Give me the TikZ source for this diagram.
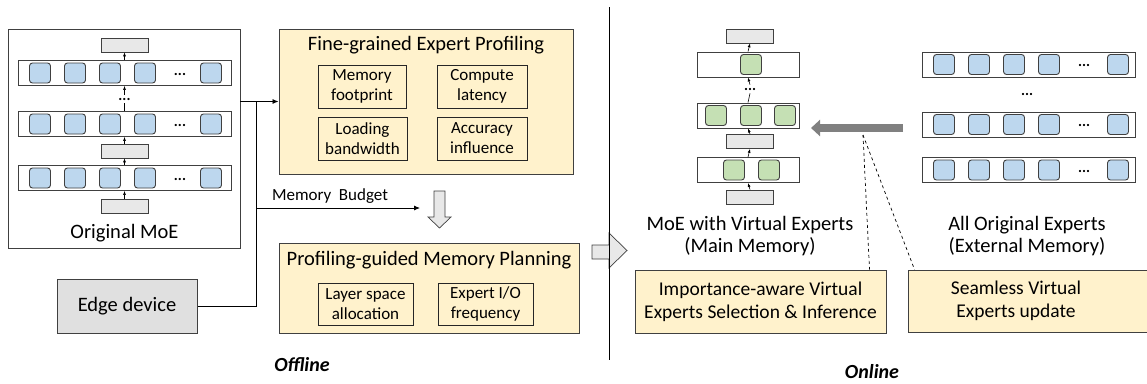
\documentclass[tikz,border=0pt]{standalone}
\usepackage{fontspec}
\setmainfont{Carlito}
\usetikzlibrary{arrows.meta,positioning,calc}

\definecolor{expblue}{HTML}{BDD7EE}
\definecolor{expgreen}{HTML}{C5E0B4}
\definecolor{panelyellow}{HTML}{FFF2CC}
\definecolor{gatefill}{HTML}{E8E8E8}
\definecolor{edgefill}{HTML}{E0E0E0}
\definecolor{arrowgray}{HTML}{808080}
\definecolor{boxline}{HTML}{404040}

\begin{document}
\begin{tikzpicture}[x=1pt,y=-1pt]
\tikzset{every node/.style={font=\fontsize{20.5}{23}\selectfont}}
\tikzset{expert/.style={draw=boxline,fill=expblue,rounded corners=3pt,line width=0.9pt,minimum width=21pt,minimum height=20pt,inner sep=0pt}}
\tikzset{vexpert/.style={expert,fill=expgreen}}
\tikzset{layer/.style={draw=boxline,line width=0.9pt,minimum height=25pt,inner sep=0pt}}
\tikzset{gate/.style={draw=boxline,fill=gatefill,line width=0.7pt,minimum width=47pt,minimum height=14pt,inner sep=0pt}}
\tikzset{panel/.style={draw=boxline,fill=panelyellow,line width=1pt,inner sep=0pt}}
\tikzset{subbox/.style={draw=black!85,line width=0.9pt,align=center,inner sep=0pt,font=\fontsize{17}{20}\selectfont}}
\tikzset{dots/.style={inner xsep=0pt,inner ysep=3pt,font=\fontsize{15}{15}\selectfont\bfseries}}
\tikzset{flow/.style={-{Latex[length=4pt,width=3pt]},line width=0.6pt}}
\tikzset{blockarrow/.style={draw=boxline,fill=gatefill,line width=0.7pt}}
\useasboundingbox (0,0) rectangle (1147,383);

% offline: original model
\node[draw=boxline,line width=0.9pt,minimum width=232pt,minimum height=219pt] (orig) at (124,138.5) {};
\node[gate] (og1) at (124.5,45) {};
\node[layer,minimum width=213pt] (ol1) at (124.5,73) {};
\node[dots] (od) at (124.5,99) {...};
\node[layer,minimum width=213pt] (ol2) at (124.5,124) {};
\node[gate] (og2) at (124.5,151) {};
\node[layer,minimum width=213pt] (ol3) at (124.5,178) {};
\node[gate] (og3) at (124.5,206) {};
\foreach \r/\y in {1/73,2/124,3/178} {
  \foreach \x [count=\i] in {40,75,110,145,211}
    \node[expert] (oe\r\i) at (\x,\y) {};
  \node[dots] at (180,\y+1) {...};
}
\draw[flow] (ol1.north) -- (og1.south);
\draw[flow] (od.north) -- (ol1.south);
\draw[line width=0.6pt] (ol2.north) -- (od.south);
\draw[flow] (og2.north) -- (ol2.south);
\draw[flow] (ol3.north) -- (og2.south);
\draw[flow] (og3.north) -- (ol3.south);
\node at (124.5,233) {Original MoE};

\node[draw=boxline,fill=edgefill,line width=1pt,minimum width=140pt,minimum height=54pt] (edge) at (127,306) {Edge device};

% profiling
\node[panel,minimum width=294pt,minimum height=145pt] (prof) at (426,101.5) {};
\node at (426,45) {Fine-grained Expert Profiling};
\node[subbox,minimum width=88pt,minimum height=43pt] (mem) at (362,86.5) {Memory\\footprint};
\node[subbox,minimum width=90pt,minimum height=43pt] (lat) at (482,86.5) {Compute\\latency};
\node[subbox,minimum width=89pt,minimum height=43pt] (bw) at (362.5,138.5) {Loading\\bandwidth};
\node[subbox,minimum width=90pt,minimum height=43pt] (acc) at (482,138.5) {Accuracy\\influence};

\coordinate (jn) at (256,101.5);
\coordinate (mb) at (420,208);
\draw[-{Latex[length=6pt,width=5pt]},line width=0.8pt] (orig.east |- prof.west) -- (prof.west);
\draw[line width=0.8pt] (edge.east) -| (jn);
\draw[-{Latex[length=6pt,width=5pt]},line width=0.8pt] (jn |- mb) -- (mb);
\node[font=\fontsize{17}{19}\selectfont] at (330,196) {Memory~ Budget};

\draw[blockarrow] (434,191) -- (445,191) -- (445,217) -- (451,217) -- (439.5,228) -- (428,217) -- (434,217) -- cycle;

% planning
\node[panel,minimum width=300pt,minimum height=90pt] (plan) at (429,288) {};
\node at (429,260) {Profiling-guided Memory Planning};
\node[subbox,minimum width=95pt,minimum height=42pt] (alloc) at (365.5,304) {Layer space\\allocation};
\node[subbox,minimum width=95pt,minimum height=42pt] (freq) at (485.5,304) {Expert I/O\\frequency};

\node[font=\fontsize{20}{23}\selectfont\bfseries\itshape] at (302,365) {Offline};

\draw[blockarrow] (592,245) -- (609,245) -- (609,233) -- (627,250.5) -- (609,268) -- (609,259) -- (592,259) -- cycle;
\draw[line width=0.8pt] (609,7) -- (609,360);

% online: virtual experts
\node[gate] (vg1) at (750,36) {};
\node[layer,minimum width=102pt] (vl1) at (748,64.5) {};
\node[dots] (vd) at (750,89) {...};
\node[layer,minimum width=102pt] (vl2) at (748,115.5) {};
\node[gate] (vg2) at (750,141.5) {};
\node[layer,minimum width=102pt] (vl3) at (748,170) {};
\node[gate] (vg3) at (750,197) {};
\node[vexpert] (ve11) at (751,64.5) {};
\foreach \x [count=\i] in {716,751,785}
  \node[vexpert] (ve2\i) at (\x,115.5) {};
\foreach \x [count=\i] in {734,769}
  \node[vexpert] (ve3\i) at (\x,170) {};
\draw[flow] (vl1.north) -- (vg1.south);
\draw[flow] (vd.north) -- (vl1.south);
\draw[line width=0.6pt] (vl2.north) -- (vd.south);
\draw[flow] (vg2.north) -- (vl2.south);
\draw[flow] (vl3.north) -- (vg2.south);
\draw[flow] (vg3.north) -- (vl3.south);
\node[align=center,font=\fontsize{20.5}{22}\selectfont] at (750,236) {MoE with Virtual Experts\\(Main Memory)};

% online: all experts
\node[layer,minimum width=213pt] (al1) at (1028.5,64.5) {};
\node[dots] at (1027,94) {...};
\node[layer,minimum width=213pt] (al2) at (1028.5,124.5) {};
\node[layer,minimum width=213pt] (al3) at (1028.5,170) {};
\foreach \r/\y in {1/64.5,2/124.5,3/170} {
  \foreach \x [count=\i] in {944,979,1014,1049,1118}
    \node[expert] (ae\r\i) at (\x,\y) {};
  \node[dots] at (1084,\y+1) {...};
}
\node[align=center,font=\fontsize{20.5}{22}\selectfont] at (1027,236) {All Original Experts\\(External Memory)};

\coordinate (src) at (903,128);
\coordinate (dst) at (811,128);
\coordinate (tap) at (863,135);
\draw[arrowgray,line width=8pt,-{Triangle[length=9pt,width=16pt]}] (src) -- (dst);

\node[panel,align=center,font=\fontsize{19.5}{23}\selectfont,minimum width=251pt,minimum height=63pt] (sel) at (760.5,301.5) {Importance-aware Virtual\\Experts Selection \& Inference};
\node[panel,minimum width=242pt,minimum height=62pt,label={[align=center,xshift=-13pt,font=\fontsize{19.5}{23}\selectfont]center:Seamless Virtual\\Experts update}] (upd) at (1029,301) {};
\draw[dashed,line width=0.7pt] (tap) -- ([xshift=-17pt]sel.north east);
\draw[dashed,line width=0.7pt] (tap) -- ([xshift=7pt]upd.north west);

\node[font=\fontsize{20}{23}\selectfont\bfseries\itshape] at (872,372) {Online};
\end{tikzpicture}
\end{document}
